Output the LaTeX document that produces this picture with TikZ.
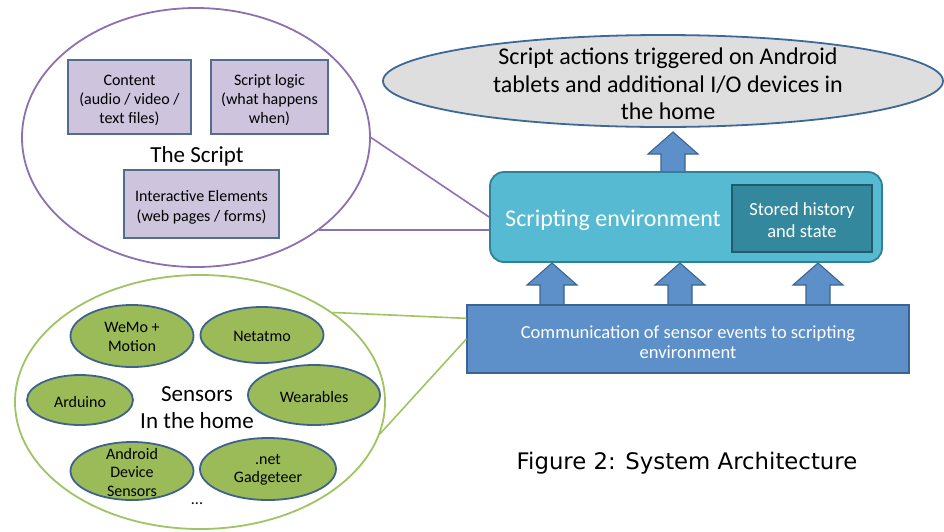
\documentclass[tikz,border=0pt]{standalone}
\usepackage{fontspec}
\setmainfont{Carlito}
\newfontfamily\capfont{DejaVu Sans}
\usetikzlibrary{shapes.geometric}
\definecolor{purp}{RGB}{140,112,176}
\definecolor{lav}{RGB}{206,196,222}
\definecolor{lavline}{RGB}{84,108,142}
\definecolor{topfill}{RGB}{222,222,222}
\definecolor{topline}{RGB}{62,104,150}
\definecolor{envfill}{RGB}{86,186,210}
\definecolor{envline}{RGB}{48,128,150}
\definecolor{stfill}{RGB}{52,136,158}
\definecolor{stline}{RGB}{34,92,108}
\definecolor{bluefill}{RGB}{93,144,200}
\definecolor{blueline}{RGB}{60,100,146}
\definecolor{gfill}{RGB}{155,187,89}
\definecolor{gline}{RGB}{62,98,140}
\definecolor{gring}{RGB}{160,195,100}
\newcommand\fs[2]{\fontsize{#1}{#2}\selectfont}
\newcommand\blockup[3]{%
  \draw[blockarrow] ({#1-12},#2) -- ({#1-12},{#3+22}) -- ({#1-25},{#3+22}) -- (#1,#3)
    -- ({#1+25},{#3+22}) -- ({#1+12},{#3+22}) -- ({#1+12},#2);}
\tikzset{
  bigell/.style={ellipse, draw, line width=1.8pt, inner sep=0pt},
  lavbox/.style={draw=lavline, fill=lav, line width=1.3pt, inner sep=0pt},
  lavtext/.style={align=center, font=\fs{16}{19}},
  greenell/.style={ellipse, draw=gline, fill=gfill, line width=1.8pt, inner sep=0pt},
  gtext/.style={align=center, font=\fs{16}{18.5}},
  blockarrow/.style={draw=blueline, fill=bluefill, line width=1.1pt},
}
\begin{document}
\begin{tikzpicture}[x=1pt, y=-1pt]
\useasboundingbox (0,0) rectangle (944,531);
% The Script ellipse
\node[bigell, draw=purp, fill=white, minimum width=348pt, minimum height=259pt] (script) at (196,137.5) {};
\node[lavbox, minimum width=123pt, minimum height=74pt] (content) at (129.5,97) {};
\node[lavtext] (contentt) at (129.5,100) {Content\\(audio / video /\\text files)};
\node[lavbox, minimum width=117pt, minimum height=74pt] (logic) at (269.5,97) {};
\node[lavtext] (logict) at (269.5,100) {Script logic\\(what happens\\when)};
\node[font=\fs{23}{27}] (scripttitle) at (197,156) {The Script};
\node[lavbox, minimum width=155pt, minimum height=68pt] (inter) at (201.5,204) {};
\node[lavtext, font=\fs{16}{20}] (intert) at (201.5,207) {Interactive Elements\\(web pages / forms)};
% Top ellipse
\node[bigell, draw=topline, fill=topfill, minimum width=560pt, minimum height=92pt] (actions) at (663,81) {};
\node[align=center, font=\fs{24}{27.5}] (actionstext) at (668,84) {Script actions triggered on Android\\tablets and additional I/O devices in\\the home};
% arrows
\blockup{673}{174}{132}
\blockup{552}{307}{263}
\blockup{680}{307}{263}
\blockup{818}{307}{263}
% Scripting environment
\node[draw=envline, fill=envfill, line width=1.8pt, rounded corners=14pt, minimum width=392pt, minimum height=90pt, inner sep=0pt] (env) at (686,217) {};
\node[text=white, font=\fs{24}{28}] (envtext) at (613,220) {Scripting environment};
\node[draw=stline, fill=stfill, line width=1.4pt, minimum width=140pt, minimum height=67pt, inner sep=0pt] (stored) at (802,218.5) {};
\node[text=white, align=center, font=\fs{18.5}{22}] (storedt) at (802,220) {Stored history\\and state};
% Communication box
\node[draw=blueline, fill=bluefill, line width=1.3pt, minimum width=442pt, minimum height=68pt, inner sep=0pt] (comm) at (688,339) {};
\node[text=white, align=center, font=\fs{18.5}{20.5}] (commt) at (688,342) {Communication of sensor events to scripting\\environment};
% purple connectors
\draw[purp, line width=1.6pt] (script.east) -- (env.west);
\draw[purp, line width=1.6pt] (script.-37) -- (script.-37 -| env.west);
% Sensors
\node[bigell, draw=gring, fill=white, minimum width=370pt, minimum height=254pt] (sensors) at (200,402) {};
\node[greenell, minimum width=123pt, minimum height=62pt] (wemo) at (132,336) {};
\node[gtext] (wemot) at (132,337) {WeMo +\\Motion};
\node[greenell, minimum width=123pt, minimum height=56pt] (neta) at (262,335) {};
\node[gtext] (netat) at (262,336) {Netatmo};
\node[greenell, minimum width=106pt, minimum height=50pt] (ard) at (80,400) {};
\node[gtext] (ardt) at (80,402) {Arduino};
\node[greenell, minimum width=132pt, minimum height=60pt] (wear) at (314,395) {};
\node[gtext] (weart) at (314,397) {Wearables};
\node[greenell, minimum width=123pt, minimum height=58pt] (andr) at (132,471) {};
\node[gtext] (andrt) at (132,472) {Android\\Device\\Sensors};
\node[greenell, minimum width=136pt, minimum height=62pt] (gadg) at (268,469) {};
\node[gtext] (gadgt) at (268,470) {.net\\Gadgeteer};
\node[align=center, font=\fs{23}{27}] (sensorstext) at (197,408) {Sensors\\In the home};
\node[font=\fs{16}{18}] (dots) at (197,504) {...};
% green connectors
\draw[gring, line width=1.6pt] (sensors.34) -- ([yshift=-14pt]comm.north west);
\draw[gring, line width=1.6pt] (sensors.-10) -- (comm.west);
% caption
\node[font=\capfont\fs{22.8}{26}] (caption) at (687,463) {Figure 2: System Architecture};
\end{tikzpicture}
\end{document}
